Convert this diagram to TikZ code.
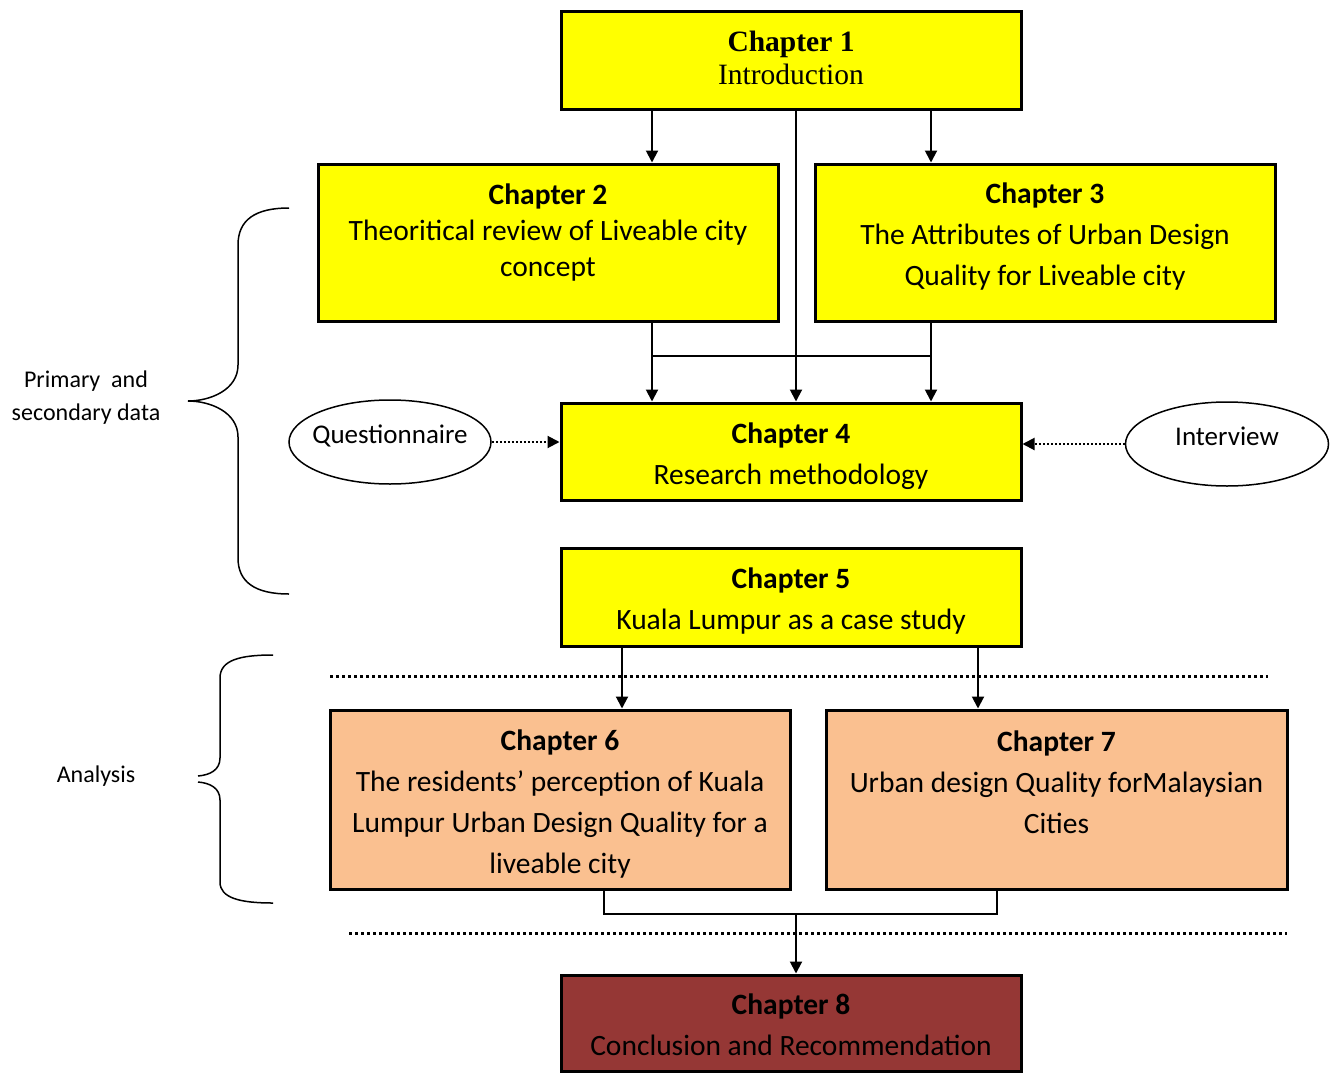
\documentclass[tikz,border=0pt]{standalone}
\usepackage{fontspec}
\setmainfont{Carlito}
\newfontfamily\serifchap{Liberation Serif}
\usetikzlibrary{arrows.meta,shapes.geometric}
\definecolor{chyellow}{RGB}{255,255,0}
\definecolor{chpeach}{RGB}{250,192,144}
\definecolor{chred}{RGB}{149,55,53}
\begin{document}
\begin{tikzpicture}[x=1pt,y=-1pt]
\tikzstyle{chap}=[draw,line width=3pt,inner sep=0pt,minimum width=460]
\tikzstyle{ctext}=[align=center,inner sep=0pt,font=\fontsize{29.5}{41}\selectfont]
\tikzstyle{oval}=[draw,ellipse,line width=1.5pt,inner sep=-30pt,text height=20pt,text depth=17pt,minimum width=202,minimum height=84,font=\fontsize{27}{31}\selectfont]
\tikzstyle{side}=[align=center,inner sep=0pt,font=\fontsize{24}{33}\selectfont]
\tikzstyle{arr}=[line width=2pt,-{Triangle[length=12pt,width=12pt]}]
\tikzstyle{dotarr}=[line width=2pt,dash pattern=on 2pt off 2pt,-{Triangle[length=12pt,width=12pt]}]
\tikzstyle{sep}=[line width=3pt,dash pattern=on 3pt off 3pt]
\tikzstyle{brace}=[line width=1.5pt]
\useasboundingbox (0,0) rectangle (1338,1073);
\node[chap,fill=chyellow,minimum height=97] (ch1) at (791,60.5) {};
\node[chap,fill=chyellow,minimum height=157] (ch2) at (548,242.5) {};
\node[chap,fill=chyellow,minimum height=157] (ch3) at (1045,242.5) {};
\node[chap,fill=chyellow,minimum height=97] (ch4) at (791,451.5) {};
\node[chap,fill=chyellow,minimum height=98] (ch5) at (791,597) {};
\node[chap,fill=chpeach,minimum height=179] (ch6) at (560,799.5) {};
\node[chap,fill=chpeach,minimum height=179,minimum width=461] (ch7) at (1056.5,799.5) {};
\node[chap,fill=chred,minimum height=96] (ch8) at (791,1023) {};
\node[ctext,font=\serifchap\fontsize{29.5}{33}\selectfont] (ch1t) at (791,57.5) {\textbf{Chapter 1}\\Introduction};
\node[ctext,font=\fontsize{29.5}{36}\selectfont] (ch2t) at (548,232.5) {\textbf{Chapter 2}\\Theoritical review of Liveable city\\concept};
\node[ctext] (ch3t) at (1045,236.5) {\textbf{Chapter 3}\\The Attributes of Urban Design\\Quality for Liveable city};
\node[ctext] (ch4t) at (791,456.5) {\textbf{Chapter 4}\\Research methodology};
\node[ctext] (ch5t) at (791,601) {\textbf{Chapter 5}\\Kuala Lumpur as a case study};
\node[ctext] (ch6t) at (560,804) {\textbf{Chapter 6}\\The residents’ perception of Kuala\\Lumpur Urban Design Quality for a\\liveable city};
\node[ctext] (ch7t) at (1056.5,782) {\textbf{Chapter 7}\\Urban design Quality forMalaysian\\Cities};
\node[ctext] (ch8t) at (791,1025) {\textbf{Chapter 8}\\Conclusion and Recommendation};
\node[oval] (qn) at (390,442) {Questionnaire};
\node[oval,minimum width=203] (iv) at (1227,444) {Interview};
\node[side] (prim) at (86,398) {Primary\ \ and\\secondary data};
\node[side] (anal) at (96,776) {Analysis};
\coordinate (join) at (796,914);
\draw[arr] (ch1.south -| 652,0) -- (ch2.north -| 652,0);
\draw[arr] (ch1.south -| 931,0) -- (ch3.north -| 931,0);
\draw[arr] (ch1.south -| 796,0) -- (ch4.north -| 796,0);
\draw[arr] (ch2.south -| 652,0) -- (ch4.north -| 652,0);
\draw[arr] (ch3.south -| 931,0) -- (ch4.north -| 931,0);
\draw[line width=1.5pt] (652,356) -- (931,356);
\draw[dotarr] (qn.east) -- (ch4.west |- qn.east);
\draw[dotarr] (iv.west) -- (ch4.east |- iv.west);
\draw[arr] (ch5.south -| 622,0) -- (ch6.north -| 622,0);
\draw[arr] (ch5.south -| 978,0) -- (ch7.north -| 978,0);
\draw[line width=1.5pt] (ch6.south -| 604,0) -- (604,914) -- (997,914) -- (ch7.south -| 997,0);
\draw[arr] (join) -- (ch8.north -| join);
\draw[sep] (330,676) -- (1268,676);
\draw[sep] (349,933) -- (1287,933);
\draw[brace] (289,208) .. controls (255,208) and (238,220) .. (238,245) -- (238,365) .. controls (238,390) and (210,401) .. (188,401) .. controls (210,401) and (238,412) .. (238,437) -- (238,558) .. controls (238,582) and (255,594) .. (289,594);
\draw[brace] (273,655) .. controls (240,655) and (220,660) .. (220,678) -- (220,758) .. controls (220,770) and (210,775) .. (198,776);
\draw[brace] (198,782) .. controls (210,783) and (220,788) .. (220,800) -- (220,882) .. controls (220,898) and (240,903) .. (273,903);
\end{tikzpicture}
\end{document}
